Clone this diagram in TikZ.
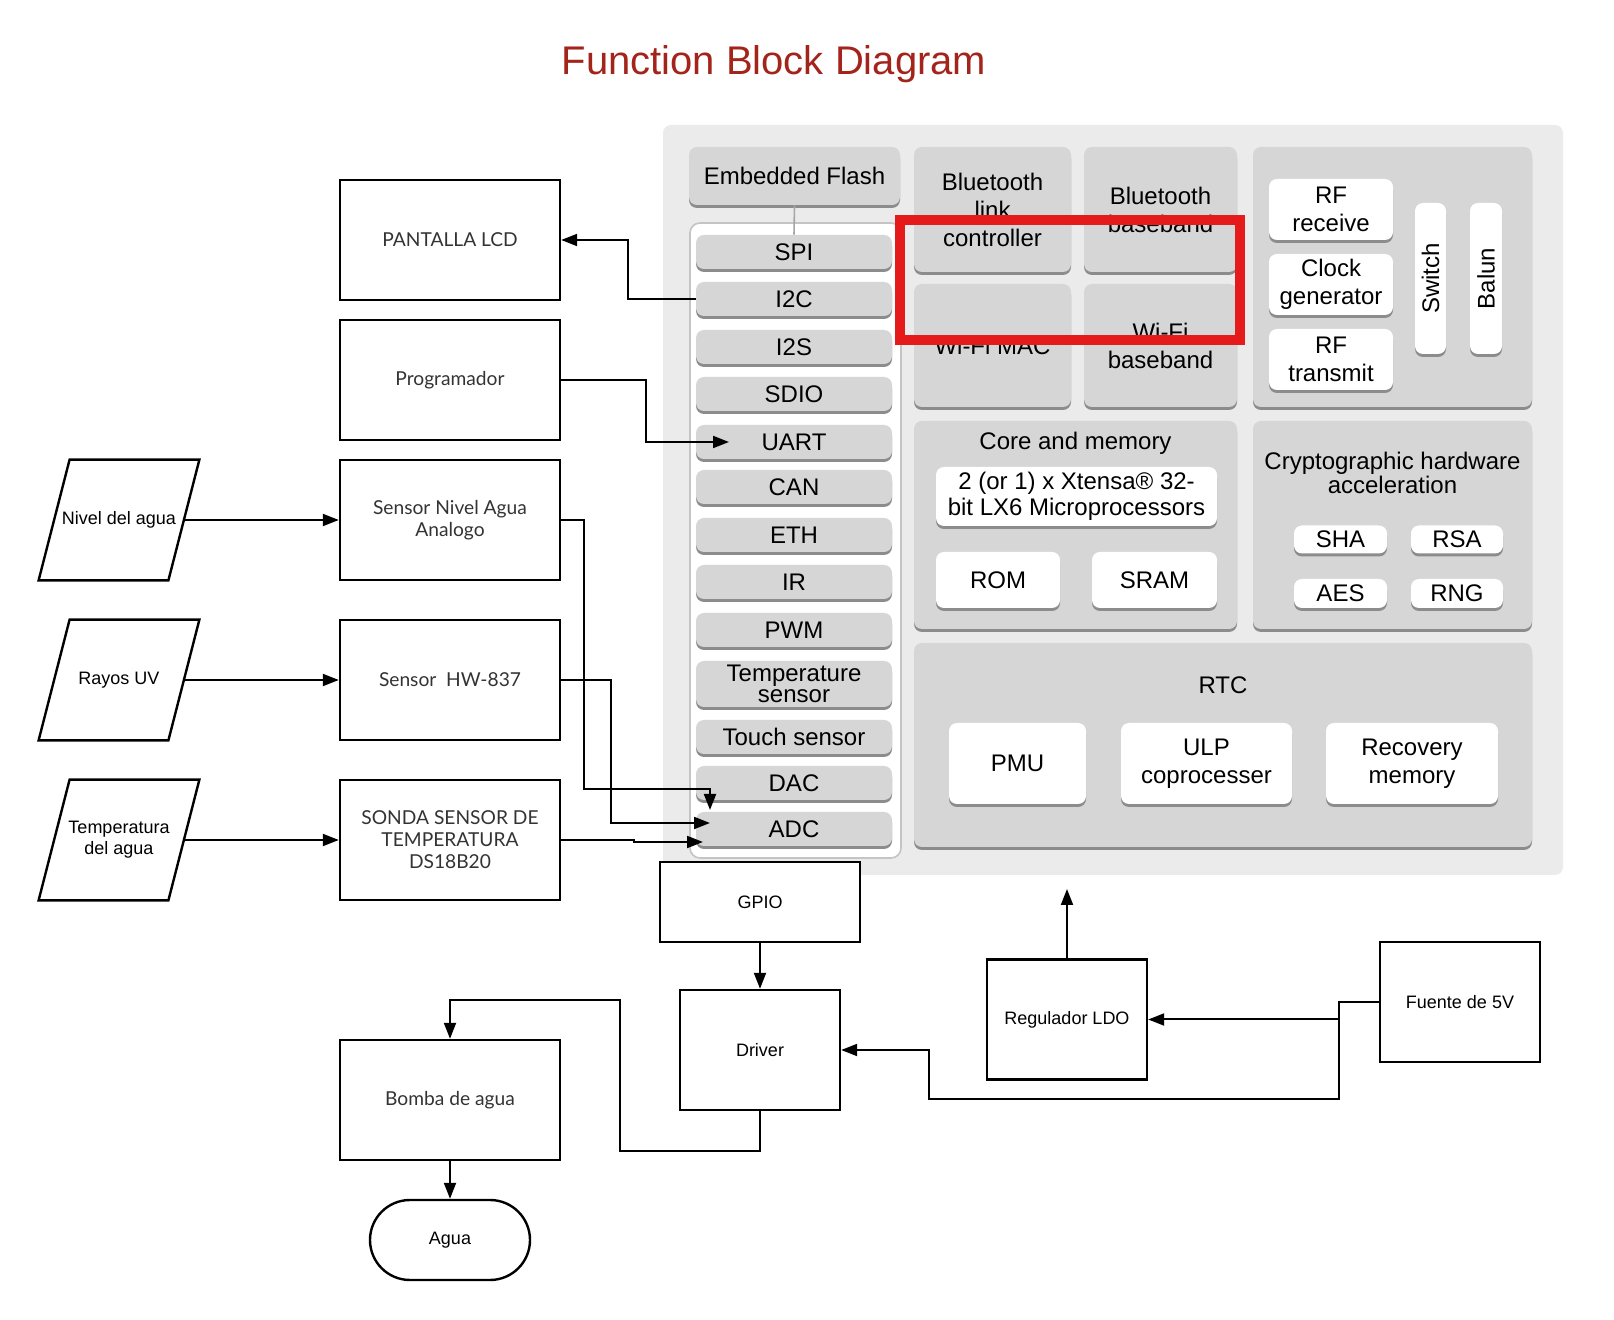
\documentclass[tikz,border=0pt]{standalone}
\usepackage{fontspec}
\setmainfont{Liberation Sans}
\newfontfamily\boxfont{Lato}
\usepackage{xcolor}
\usepackage{tikz}
\usetikzlibrary{arrows.meta, shapes.geometric, positioning, calc}
\definecolor{PanelGray}{HTML}{EBEBEB}
\definecolor{BlockGray}{HTML}{D6D6D6}
\definecolor{ShadowGray}{HTML}{8C8C8C}
\definecolor{ColBorder}{HTML}{C4C4C4}
\definecolor{TitleRed}{HTML}{A3241A}
\definecolor{MarkRed}{HTML}{E51A1A}
\definecolor{BoxText}{HTML}{333333}

\begin{document}
\begin{tikzpicture}[x=0.5pt, y=-0.5pt,
    blk/.style={rounded corners=4pt, fill=BlockGray, inner sep=0pt, align=center,
        font=\fontsize{12}{14}\selectfont,
        preaction={fill=ShadowGray, transform canvas={yshift=-1.5pt}}},
    wblk/.style={blk, fill=white},
    port/.style={blk, minimum width=98pt, minimum height=17pt},
    ext/.style={draw, line width=1.2pt, minimum width=110pt, minimum height=60pt,
        align=center, text=BoxText, font=\boxfont\fontsize{9.6}{11}\selectfont},
    plain/.style={draw, fill=white, line width=1.2pt, align=center,
        font=\fontsize{9}{11}\selectfont},
    iotext/.style={minimum width=80pt, minimum height=60pt, inner sep=0pt,
        align=center, font=\fontsize{9}{10.5}\selectfont},
    arr/.style={-{Triangle[length=8pt, width=6pt]}, line width=1pt}
]
    \useasboundingbox (0,0) rectangle (1614,1320);

    % titulo
    \node[anchor=base, text=TitleRed, font=\fontsize{20}{22}\selectfont] (title) at (774,75) {Function Block Diagram};

    % fondo del ESP32
    \node[fill=PanelGray, rounded corners=4pt, minimum width=450pt, minimum height=375pt, inner sep=0pt] (esp) at (1113,500) {};
    \node[fill=white, draw=ColBorder, line width=0.8pt, rounded corners=5pt, minimum width=105.5pt, minimum height=317.5pt, inner sep=0pt] (col) at (795.5,540.5) {};

    % memoria flash y perifericos
    \node[blk, minimum width=105.5pt, minimum height=29pt] (flash) at (794.5,176) {Embedded Flash};
    \node[port] (spi) at (794,252) {SPI};
    \node[port] (itwoc) at (794,299) {I2C};
    \node[port] (itwos) at (794,347) {I2S};
    \node[port] (sdio) at (794,394) {SDIO};
    \node[port] (uart) at (794,442) {UART};
    \node[port] (can) at (794,487) {CAN};
    \node[port] (eth) at (794,535) {ETH};
    \node[port] (ir) at (794,582) {IR};
    \node[port] (pwm) at (794,630) {PWM};
    \node[port, minimum height=23pt, font=\fontsize{12}{10.5}\selectfont] (tsens) at (794,684) {Temperature\\sensor};
    \node[port] (touch) at (794,737) {Touch sensor};
    \node[port] (dac) at (794,783) {DAC};
    \node[port] (adc) at (794,829) {ADC};
    \draw[gray!70, line width=0.8pt] (flash.south) -- (spi.north);

    % radio
    \node[blk, minimum width=78.5pt, minimum height=62.5pt] (btlc) at (992.5,209.5) {Bluetooth\\link\\controller};
    \node[blk, minimum width=76.5pt, minimum height=62.5pt] (btbb) at (1160.5,209.5) {Bluetooth\\baseband};
    \node[blk, minimum width=78.5pt, minimum height=61.5pt] (wifimac) at (992.5,345.5) {Wi-Fi MAC};
    \node[blk, minimum width=76.5pt, minimum height=61.5pt] (wifibb) at (1160.5,345.5) {Wi-Fi\\baseband};
    \node[blk, minimum width=139.5pt, minimum height=130pt] (rf) at (1392.5,277) {};
    \node[wblk, minimum width=62pt, minimum height=30.5pt] (rfrx) at (1331,209.5) {RF\\receive};
    \node[wblk, minimum width=62pt, minimum height=30.5pt] (clk) at (1331,284.5) {Clock\\generator};
    \node[wblk, minimum width=62pt, minimum height=30.5pt] (rftx) at (1331,359.5) {RF\\transmit};
    \node[wblk, minimum width=15.5pt, minimum height=75.5pt] (switch) at (1430.5,278.5) {\rotatebox{90}{Switch}};
    \node[wblk, minimum width=16pt, minimum height=75.5pt] (balun) at (1486,278.5) {\rotatebox{90}{Balun}};

    % nucleo y memoria
    \node[blk, minimum width=161.5pt, minimum height=104pt] (core) at (1075.5,525) {};
    \node[font=\fontsize{12}{14}\selectfont] (coreTitle) at (1075.5,443) {Core and memory};
    \node[wblk, minimum width=140.5pt, minimum height=29.5pt, font=\fontsize{12}{13}\selectfont] (xtensa) at (1076.5,496.5) {2 (or 1) x Xtensa® 32-\\bit LX6 Microprocessors};
    \node[wblk, minimum width=62pt, minimum height=28pt] (rom) at (998,580) {ROM};
    \node[wblk, minimum width=62.5pt, minimum height=28pt] (sram) at (1154.5,580) {SRAM};

    % criptografia
    \node[blk, minimum width=139.5pt, minimum height=104pt] (crypto) at (1392.5,525) {};
    \node[align=center, font=\fontsize{12}{10.8}\selectfont] (cryptoTitle) at (1392.5,473) {Cryptographic hardware\\acceleration};
    \node[wblk, minimum width=46.5pt, minimum height=14pt] (sha) at (1340.5,539.5) {SHA};
    \node[wblk, minimum width=46pt, minimum height=14pt] (rsa) at (1457,539.5) {RSA};
    \node[wblk, minimum width=46.5pt, minimum height=14.5pt] (aes) at (1340.5,593.5) {AES};
    \node[wblk, minimum width=46pt, minimum height=14.5pt] (rng) at (1457,593.5) {RNG};

    % RTC
    \node[blk, minimum width=309pt, minimum height=102pt] (rtc) at (1223,745) {};
    \node[font=\fontsize{12}{14}\selectfont] (rtcTitle) at (1223,685) {RTC};
    \node[wblk, minimum width=68.5pt, minimum height=40.5pt] (pmu) at (1017.5,763.5) {PMU};
    \node[wblk, minimum width=85.5pt, minimum height=40.5pt] (ulp) at (1206.5,763.5) {ULP\\coprocesser};
    \node[wblk, minimum width=86pt, minimum height=40.5pt] (recov) at (1412,763.5) {Recovery\\memory};

    % entradas (paralelogramos)
    \node[iotext] (nivel) at (119,520) {Nivel del agua};
    \node[iotext] (uv) at (119,680) {Rayos UV};
    \node[iotext] (temp) at (119,840) {Temperatura\\del agua};
    \foreach \n in {nivel, uv, temp}
        \draw[line width=1.2pt] (\n.south west) -- ([xshift=15.5pt]\n.north west) -- (\n.north east) -- ([xshift=-15.5pt]\n.south east) -- cycle;

    % modulos externos
    \node[ext] (lcd) at (450,240) {PANTALLA LCD};
    \node[ext] (prog) at (450,380) {Programador};
    \node[ext] (nivelS) at (450,520) {Sensor Nivel Agua\\Analogo};
    \node[ext] (uvS) at (450,680) {Sensor\ \ HW-837};
    \node[ext] (sonda) at (450,840) {SONDA SENSOR DE\\TEMPERATURA\\DS18B20};
    \node[ext] (bomba) at (450,1100) {Bomba de agua};
    \node[plain, rounded corners=20pt, minimum width=80pt, minimum height=40pt] (agua) at (450,1240) {Agua};

    % potencia y salida
    \node[plain, minimum width=100pt, minimum height=40pt] (gpio) at (760,902) {GPIO};
    \node[plain, minimum width=80pt, minimum height=60pt] (driver) at (760,1050) {Driver};
    \node[plain, minimum width=80pt, minimum height=60pt] (ldo) at (1067,1019.5) {Regulador LDO};
    \node[plain, minimum width=80pt, minimum height=60pt] (fuente) at (1460,1002) {Fuente de 5V};

    % puntos libres
    \coordinate (uartIn) at (729,442);
    \coordinate (adcTop) at (710,810);
    \coordinate (adcInA) at (710,823);
    \coordinate (adcInB) at (703,842);
    \coordinate (ldoOut) at (1067,889);

    % conexiones
    \draw[arr] (itwoc.west) -- ++(-68,0) |- (lcd.east);
    \draw[arr] (prog.east) -- ++(85,0) |- (uartIn);
    \draw[arr] ([xshift=-7.75pt]nivel.east) -- (nivelS.west);
    \draw[arr] ([xshift=-7.75pt]uv.east) -- (uvS.west);
    \draw[arr] ([xshift=-7.75pt]temp.east) -- (sonda.west);
    \draw[arr] (nivelS.east) -- ++(23,0) -- ++(0,269) -| (adcTop);
    \draw[arr] (uvS.east) -- ++(50,0) |- (adcInA);
    \draw[arr] (sonda.east) -- ++(73,0) |- (adcInB);
    \draw[arr] (gpio.south) -- (driver.north);
    \draw[arr] (driver.south) -- ++(0,40) -- ++(-140,0) -- ++(0,-151) -| (bomba.north);
    \draw[arr] (bomba.south) -- (agua.north);
    \draw[arr] (ldo.north) -- (ldoOut);
    \draw[arr] (fuente.west) -- ++(-40,0) |- (ldo.east);
    \draw[arr] (fuente.west) -- ++(-40,0) -- ++(0,97) -- ++(-410,0) |- (driver.east);

    % marca roja
    \draw[MarkRed, line width=5pt] (900,220) rectangle (1240,340);
\end{tikzpicture}
\end{document}
